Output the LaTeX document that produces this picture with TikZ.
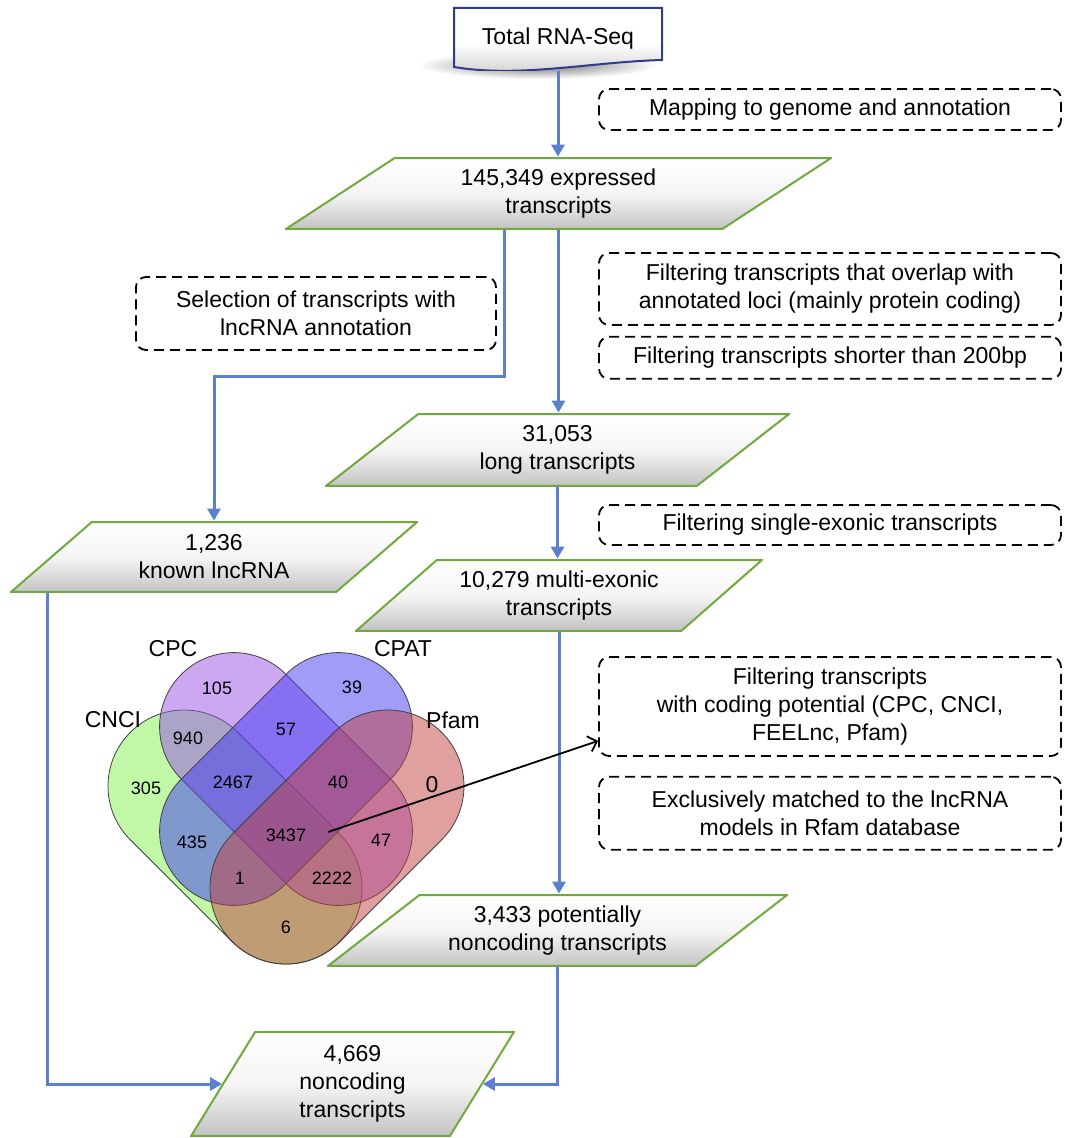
\documentclass[tikz,border=0pt]{standalone}
\usepackage{fontspec}
\setmainfont{Liberation Sans}
\usetikzlibrary{
    positioning,
    arrows.meta,
    calc
}

\definecolor{flowblue}{RGB}{91,128,205}
\definecolor{leafgreen}{RGB}{112,170,60}
\definecolor{navyedge}{RGB}{47,60,140}
\definecolor{venngreen}{RGB}{129,241,81}
\definecolor{vennpurple}{RGB}{153,81,229}
\definecolor{vennblue}{RGB}{65,57,241}
\definecolor{vennred}{RGB}{193,65,65}

\begin{document}
\begin{tikzpicture}[
    x=0.5pt, y=-0.5pt,
    every node/.style={font=\fontsize{11.5}{14}\selectfont},
    datanode/.style={
        rectangle,
        inner sep=0pt,
        align=center,
        path picture={
            \path[top color=white, bottom color=black!24, middle color=black!4,
                  draw=leafgreen, line width=1pt]
                ($(path picture bounding box.south west)+(0.6pt,0.6pt)$)
                -- ($(path picture bounding box.north west)!0.2!(path picture bounding box.north east)+(0,-0.6pt)$)
                -- ($(path picture bounding box.north east)+(-0.6pt,-0.6pt)$)
                -- ($(path picture bounding box.south east)!0.2!(path picture bounding box.south west)+(0,0.6pt)$)
                -- cycle;
        }
    },
    docnode/.style={
        rectangle,
        inner sep=0pt,
        minimum width=105pt,
        minimum height=32pt,
        path picture={
            \coordinate (dnw) at (path picture bounding box.north west);
            \path[top color=white, bottom color=black!20, middle color=white,
                  draw=navyedge, line width=1pt]
                ($(dnw)+(0.5pt,-0.5pt)$) -- ($(dnw)+(104.5pt,-0.5pt)$)
                -- ($(dnw)+(104.5pt,-26.5pt)$)
                .. controls ($(dnw)+(68.5pt,-27.5pt)$) and ($(dnw)+(33.5pt,-35.5pt)$)
                .. ($(dnw)+(0.5pt,-30pt)$) -- cycle;
        }
    },
    notebox/.style={
        rectangle,
        draw,
        dash pattern=on 5pt off 3pt,
        rounded corners=5pt,
        line width=0.9pt,
        align=center,
        minimum width=231pt
    },
    flow/.style={-{Triangle[length=6pt,width=6.5pt]}, draw=flowblue, line width=1.5pt},
    pointer/.style={-{Straight Barb[length=4pt,width=8pt]}, line width=0.9pt},
    vennset/.style={draw=black!75, line width=0.4pt, fill opacity=0.5},
    vcount/.style={font=\fontsize{9}{10}\selectfont},
    setlabel/.style={font=\fontsize{11.5}{13}\selectfont}
]
\useasboundingbox (0,0) rectangle (1064,1138);

% ---------- Nodes (top to bottom) ----------
\shade[inner color=black!55, outer color=white] (538,65) ellipse [x radius=60pt, y radius=7pt];
\node[docnode] (seq) at (558,39) {Total RNA-Seq};

\node[notebox, minimum height=20.5pt] (mapping) at (830,109.5) {Mapping to genome and annotation};

\node[datanode, minimum width=273.5pt, minimum height=36.5pt] (expr) at (558.5,193.5) {145,349 expressed\\transcripts};

\node[notebox, minimum width=180pt, minimum height=36.5pt] (select) at (316,313.5) {Selection of transcripts with\\lncRNA annotation};

\node[notebox, minimum height=36pt] (overlap) at (830,289) {Filtering transcripts that overlap with\\annotated loci (mainly protein coding)};

\node[notebox, minimum height=21pt, below=5pt of overlap] (lenfilter) {Filtering transcripts shorter than 200bp};

\node[datanode, minimum width=232.5pt, minimum height=37pt] (long) at (557.5,450) {31,053\\long transcripts};

\node[notebox, minimum height=20pt] (single) at (830,525) {Filtering single-exonic transcripts};

\node[datanode, minimum width=204pt, minimum height=36pt] (known) at (214,557) {1,236\\known lncRNA};

\node[datanode, minimum width=204pt, minimum height=36.5pt] (multi) at (559,595.5) {10,279 multi-exonic\\transcripts};

\node[notebox, minimum height=49.5pt] (coding) at (830,706.5) {Filtering transcripts\\with coding potential (CPC, CNCI,\\FEELnc, Pfam)};

\node[notebox, minimum height=36.5pt, below=9.5pt of coding] (rfam) {Exclusively matched to the lncRNA\\models in Rfam database};

\node[datanode, minimum width=230.5pt, minimum height=36.5pt] (pot) at (557.5,930.5) {3,433 potentially\\noncoding transcripts};

\node[datanode, minimum width=162.5pt, minimum height=53pt] (final) at (352.5,1084) {4,669\\noncoding\\transcripts};

% ---------- Main pipeline arrows ----------
\draw[flow] (seq.south) -- (seq.south |- expr.north);
\draw[flow] (expr.south) -- (expr.south |- long.north);
\draw[flow] (long.south) -- (long.south |- multi.north);
\draw[flow] (multi.south) -- (multi.south |- pot.north);
\draw[flow] (pot.south) |- ($(final.east)+(-32.5,0)$);

% ---------- Known lncRNA branch ----------
\draw[flow] ($(expr.south)+(-54,0)$) -- ++(0,146) -| (known.north);
\draw[flow] ($(known.south west)+(38,0)$) |- ($(final.west)+(32.5,0)$);

% ---------- Venn diagram (CNCI, CPC, CPAT, Pfam) ----------
\begin{scope}[shift={(235,837)}, rotate=-45]
    \path[vennset, fill=venngreen, rounded corners=37.9pt] (-148,-76) rectangle (148,76);
\end{scope}
\begin{scope}[shift={(286,779)}, rotate=-45]
    \path[vennset, fill=vennpurple, rounded corners=36.9pt] (-148,-74) rectangle (148,74);
\end{scope}
\begin{scope}[shift={(286,779)}, rotate=45]
    \path[vennset, fill=vennblue, rounded corners=36.9pt] (-148,-74) rectangle (148,74);
\end{scope}
\begin{scope}[shift={(337,837)}, rotate=45]
    \path[vennset, fill=vennred, rounded corners=37.9pt] (-148,-76) rectangle (148,76);
\end{scope}

\node[setlabel] (cpc) at (173,649) {CPC};
\node[setlabel] (cpat) at (403,649) {CPAT};
\node[setlabel] (cnci) at (113,720) {CNCI};
\node[setlabel] (pfam) at (453,720) {Pfam};

\node[vcount] (n105) at (217,688) {105};
\node[vcount] (n39) at (352,687) {39};
\node[vcount] (n940) at (188,738) {940};
\node[vcount] (n57) at (286,729) {57};
\node[vcount] (n305) at (146,788) {305};
\node[vcount] (n2467) at (233,782) {2467};
\node[vcount] (n40) at (338,782) {40};
\node[setlabel] (n0) at (432,785) {0};
\node[vcount] (n435) at (192,842) {435};
\node[vcount] (n3437) at (286,835) {3437};
\node[vcount] (n47) at (381,840) {47};
\node[vcount] (n1) at (240,878) {1};
\node[vcount] (n2222) at (332,878) {2222};
\node[vcount] (n6) at (286,927) {6};

% ---------- Pointer from the Venn core to the filter ----------
\coordinate (core) at (328,832);
\draw[pointer] (core) -- ($(coding.south west)+(0,-16)$);

\end{tikzpicture}
\end{document}
